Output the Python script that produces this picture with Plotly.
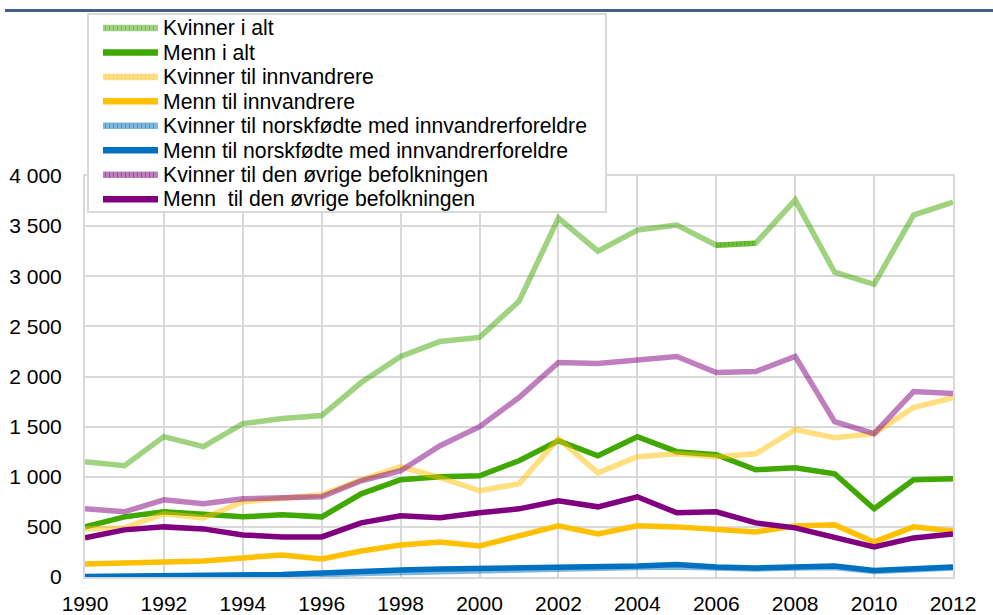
import plotly.graph_objects as go

years = [1990, 1991, 1992, 1993, 1994, 1995, 1996, 1997, 1998, 1999, 2000, 2001,
         2002, 2003, 2004, 2005, 2006, 2007, 2008, 2009, 2010, 2011, 2012]

kvinner_alt = [1150, 1110, 1400, 1300, 1530, 1580, 1610, 1940, 2200, 2350, 2390, 2750,
               3580, 3250, 3460, 3510, 3310, 3330, 3760, 3040, 2920, 3610, 3740]
menn_alt = [500, 600, 650, 630, 600, 620, 600, 830, 970, 1000, 1010, 1160,
            1360, 1210, 1400, 1250, 1220, 1070, 1090, 1030, 680, 970, 980]
kvinner_innv = [480, 490, 630, 590, 750, 790, 820, 970, 1100, 990, 860, 930,
                1380, 1040, 1200, 1230, 1200, 1230, 1470, 1390, 1430, 1690, 1790]
menn_innv = [130, 140, 150, 160, 190, 220, 180, 260, 320, 350, 310, 410,
             510, 430, 510, 500, 480, 450, 510, 520, 350, 500, 460]
kvinner_norskf = [0, 2, 4, 6, 8, 15, 22, 35, 45, 55, 60, 70,
                  75, 85, 95, 100, 90, 80, 90, 95, 55, 75, 90]
menn_norskf = [5, 8, 10, 12, 15, 25, 40, 60, 70, 80, 85, 95,
               95, 105, 110, 125, 100, 90, 100, 110, 65, 85, 100]
kvinner_ovr = [680, 650, 770, 730, 780, 790, 800, 960, 1060, 1310, 1500, 1790,
               2140, 2130, 2170, 2200, 2040, 2050, 2200, 1550, 1430, 1850, 1830]
menn_ovr = [390, 470, 500, 480, 420, 400, 400, 540, 610, 590, 640, 680,
            760, 700, 800, 640, 650, 540, 490, 400, 300, 390, 430]

series_names = [
    "Kvinner i alt",
    "Menn i alt",
    "Kvinner til innvandrere",
    "Menn til innvandrere",
    "Kvinner til norskfødte med innvandrerforeldre",
    "Menn til norskfødte med innvandrerforeldre",
    "Kvinner til den øvrige befolkningen",
    "Menn\u00a0 til den øvrige befolkningen",
]
series_values = [kvinner_alt, menn_alt, kvinner_innv, menn_innv,
                 kvinner_norskf, menn_norskf, kvinner_ovr, menn_ovr]
is_women = [True, False, True, False, True, False, True, False]

base_colors = ["64,168,0", "64,168,0", "255,192,0", "255,192,0",
               "0,112,192", "0,112,192", "128,0,128", "128,0,128"]

x_tick_vals = [1990, 1992, 1994, 1996, 1998, 2000, 2002, 2004, 2006, 2008, 2010, 2012]
x_tick_text = ["1990", "1992", "1994", "1996", "1998", "2000", "2002", "2004",
               "2006", "2008", "2010", "2012"]
y_tick_vals = [0, 500, 1000, 1500, 2000, 2500, 3000, 3500, 4000]
y_tick_text = ["0", "500", "1 000", "1 500", "2 000", "2 500", "3 000", "3 500", "4 000"]

# plot area in pixels
L, R, T, B = 85, 953, 176, 577
W, H = 993, 615
FONT = "Liberation Sans, Arial"


def pxx(x):
    return (x - L) / (R - L)


def pxy(y):
    return (B - y) / (B - T)


def col(i):
    a = 0.5 if is_women[i] else 1.0
    return f"rgba({base_colors[i]},{a})"


fig = go.Figure()
for i, (name, vals) in enumerate(zip(series_names, series_values)):
    fig.add_trace(go.Scatter(
        x=years, y=vals, name=name, mode="lines",
        line=dict(color=col(i), width=5.5),
        showlegend=False, hoverinfo="x+y+name",
    ))
    if i == 0:
        # the 2006-2007 segment is drawn darker in the reference
        seg_idx = [years.index(2006), years.index(2007)]
        fig.add_trace(go.Scatter(
            x=[years[k] for k in seg_idx], y=[vals[k] for k in seg_idx],
            mode="lines", line=dict(color=f"rgba({base_colors[0]},0.5)", width=5.5),
            showlegend=False, hoverinfo="skip",
        ))
        fig.add_trace(go.Scatter(
            x=[years[k] for k in seg_idx], y=[vals[k] for k in seg_idx],
            mode="lines", line=dict(color=f"rgba({base_colors[0]},0.6)", width=5, dash="1px,3px"),
            showlegend=False, hoverinfo="skip",
        ))

shapes = []
annotations = []

# top dark blue rule
shapes.append(dict(type="line", xref="paper", yref="paper",
                   x0=pxx(5), x1=pxx(993), y0=pxy(10.5), y1=pxy(10.5),
                   line=dict(color="#415E8C", width=3), layer="above"))

# legend box
lx0, ly0, lx1, ly1 = 88, 14, 606, 212
shapes.append(dict(type="rect", xref="paper", yref="paper",
                   x0=pxx(lx0), x1=pxx(lx1), y0=pxy(ly1), y1=pxy(ly0),
                   fillcolor="white", line=dict(color="#D9D9D9", width=2), layer="above"))

row0, step = 28, 24.45
for i, name in enumerate(series_names):
    yy = row0 + i * step
    shapes.append(dict(type="line", xref="paper", yref="paper",
                       x0=pxx(103), x1=pxx(158), y0=pxy(yy), y1=pxy(yy),
                       line=dict(color=col(i), width=6.5), layer="above"))
    if is_women[i]:
        shapes.append(dict(type="line", xref="paper", yref="paper",
                           x0=pxx(105), x1=pxx(156), y0=pxy(yy), y1=pxy(yy),
                           line=dict(color=f"rgba({base_colors[i]},0.45)", width=5, dash="1px,3px"),
                           layer="above"))
    annotations.append(dict(xref="paper", yref="paper", x=pxx(161), y=pxy(yy),
                            xanchor="left", yanchor="middle", showarrow=False,
                            text=name, font=dict(family=FONT, size=21.2, color="black")))

fig.update_layout(
    width=W, height=H,
    margin=dict(l=L, r=W - R, t=T, b=H - B, pad=0),
    paper_bgcolor="white", plot_bgcolor="white",
    showlegend=False,
    font=dict(family=FONT, size=21, color="black"),
    shapes=shapes, annotations=annotations,
    xaxis=dict(range=[1990, 2012], tickvals=x_tick_vals, ticktext=x_tick_text,
               showgrid=True, gridcolor="#D9D9D9", gridwidth=2,
               showline=True, linecolor="#D9D9D9", linewidth=2, mirror=True,
               zeroline=False, ticks="", ticklabelstandoff=7, automargin=False,
               tickfont=dict(size=21)),
    yaxis=dict(range=[0, 4000], tickvals=y_tick_vals, ticktext=y_tick_text,
               showgrid=True, gridcolor="#D9D9D9", gridwidth=2,
               showline=True, linecolor="#D9D9D9", linewidth=2, mirror=True,
               zeroline=False, ticks="", ticklabelstandoff=17, automargin=False,
               tickfont=dict(size=21)),
)

fig.write_html(
    "out.html",
    config={"displayModeBar": False},
    post_script="document.documentElement.style.margin='0';document.body.style.margin='0';"
                "document.body.style.overflow='hidden';",
)
